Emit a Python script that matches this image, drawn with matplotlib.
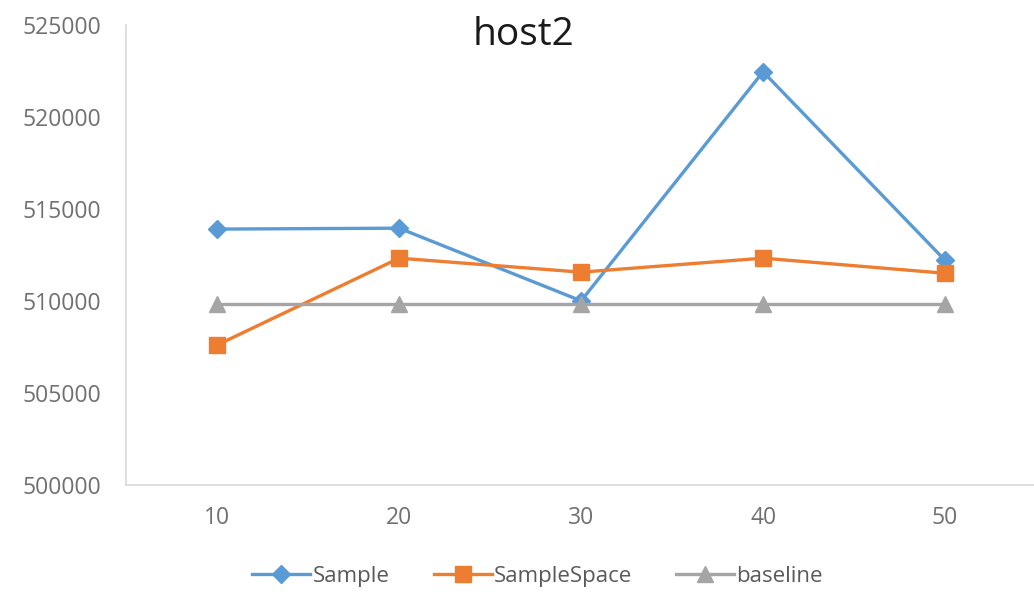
import matplotlib
matplotlib.use('Agg')
import matplotlib.pyplot as plt

# series values per sample size
sizes = [10, 20, 30, 40, 50]
sample = [513900, 513950, 510000, 522450, 512200]
sample_space = [507600, 512320, 511560, 512320, 511500]
baseline = [509850, 509850, 509850, 509850, 509850]

plt.rcParams['font.family'] = ['Open Sans', 'DejaVu Sans']

fig = plt.figure(figsize=(10.34, 5.92), dpi=100)
ax = fig.add_axes([0.122, 0.181, 0.880, 0.777])

ax.plot(sizes, sample, color='#5B9BD5', lw=2.4, marker='D', ms=9, label='Sample')
ax.plot(sizes, sample_space, color='#ED7D31', lw=2.4, marker='s', ms=12, label='SampleSpace')
ax.plot(sizes, baseline, color='#A5A5A5', lw=2.4, marker='^', ms=12, label='baseline')

ax.set_xlim(5, 55)
ax.set_ylim(500000, 525000)
ax.set_xticks(sizes)
ax.set_yticks(range(500000, 525001, 5000))
ax.tick_params(length=0, labelsize=16.5, colors='#707070')
ax.tick_params(axis='x', pad=15)
ax.tick_params(axis='y', pad=18)

for s in ['top', 'right']:
    ax.spines[s].set_visible(False)
for s in ['left', 'bottom']:
    ax.spines[s].set_color('#D9D9D9')
    ax.spines[s].set_linewidth(1.2)

fig.text(0.506, 0.924, 'host2', fontsize=28, ha='center', va='baseline', color='#1a1a1a')

fig.legend(loc='center', bbox_to_anchor=(0.52, 0.026), ncol=3, frameon=False,
           fontsize=16, handlelength=2.6, columnspacing=2.0, handletextpad=0.1,
           labelcolor='#595959')

fig.savefig('out.png', dpi=100)
